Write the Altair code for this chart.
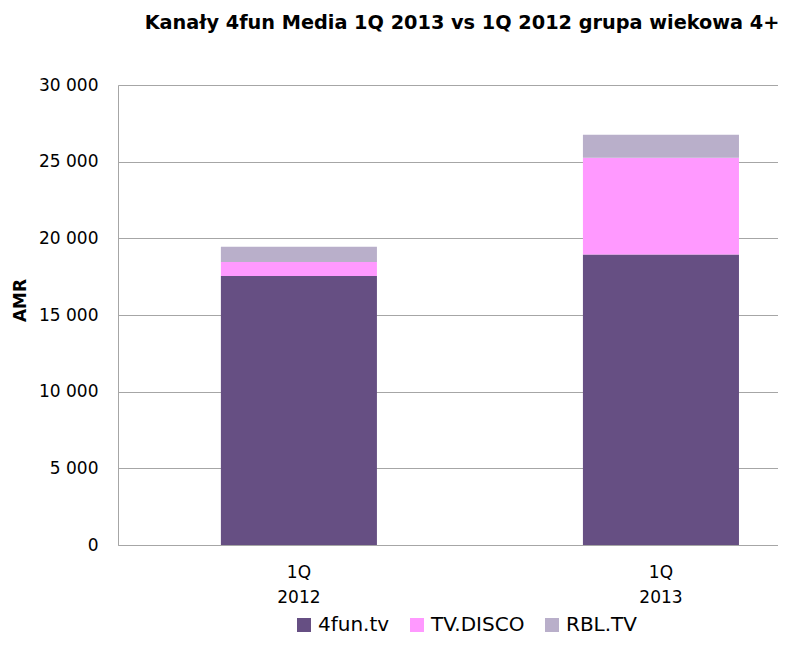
import altair as alt
import pandas as pd

quarters = ["1Q 2012", "1Q 2013"]
channels = ["4fun.tv", "TV.DISCO", "RBL.TV"]
fun_tv = [17550, 18950]
tv_disco = [900, 6300]
rbl_tv = [1000, 1500]
colors = ["#664F83", "#FF99FF", "#B9AFCA"]
y_ticks = [0, 5000, 10000, 15000, 20000, 25000, 30000]
title_text = "Kanały 4fun Media 1Q 2013 vs 1Q 2012 grupa wiekowa 4+"

rows = []
for i, series in enumerate([fun_tv, tv_disco, rbl_tv]):
    for q, v in zip(quarters, series):
        rows.append({"quarter": q, "channel": channels[i], "value": v, "order": i})
df = pd.DataFrame(rows)

FONT = "DejaVu Sans"
GRID = "#A6A6A6"

chart = alt.Chart(df).mark_bar().encode(
    x=alt.X(
        "quarter:N",
        sort=quarters,
        scale=alt.Scale(paddingInner=0.569, paddingOuter=0.196, align=0.725),
        axis=alt.Axis(
            title=None,
            labelAngle=0,
            labelExpr="split(datum.label, ' ')",
            ticks=False,
            labelPadding=19,
            labelLineHeight=25,
            labelFontSize=17,
            labelFont=FONT,
            labelColor="#000000",
            labelBaseline="top",
            domainColor=GRID,
            domainWidth=1,
        ),
    ),
    y=alt.Y(
        "value:Q",
        stack="zero",
        scale=alt.Scale(domain=[0, 30000], nice=False),
        axis=alt.Axis(
            title="AMR",
            values=y_ticks,
            labelExpr="replace(format(datum.value, ','), ',', ' ')",
            ticks=False,
            labelPadding=20,
            labelFontSize=17,
            labelFont=FONT,
            labelColor="#000000",
            domainColor=GRID,
            gridColor=GRID,
            gridWidth=1,
            titleFont=FONT,
            titleFontSize=17,
            titleFontWeight="bold",
            titleColor="#000000",
            titleAngle=270,
            titleAlign="center",
            titleBaseline="middle",
            titleX=-98,
            titleY=215,
        ),
    ),
    color=alt.Color(
        "channel:N",
        sort=channels,
        scale=alt.Scale(domain=channels, range=colors),
        legend=alt.Legend(
            title=None,
            orient="none",
            legendX=176,
            legendY=530,
            direction="horizontal",
            symbolType="square",
            symbolSize=196,
            symbolStrokeWidth=0,
            labelFont=FONT,
            labelFontSize=20,
            labelColor="#000000",
            columnPadding=17,
            labelOffset=4,
            padding=0,
            labelLimit=300,
        ),
    ),
    order=alt.Order("order:Q", sort="ascending"),
).properties(
    width=660,
    height=460,
    autosize=alt.AutoSizeParams(type="none"),
    padding={"left": 110, "top": 77, "right": 0, "bottom": 93},
    title=alt.TitleParams(
        text=title_text,
        font=FONT,
        fontSize=19.3,
        fontWeight="bold",
        color="#000000",
        anchor="middle",
        dx=14,
        offset=28,
        baseline="alphabetic",
    ),
).configure_view(stroke=None).configure(background="white")

chart.save("out.html", embed_options={"renderer": "svg", "actions": False})
